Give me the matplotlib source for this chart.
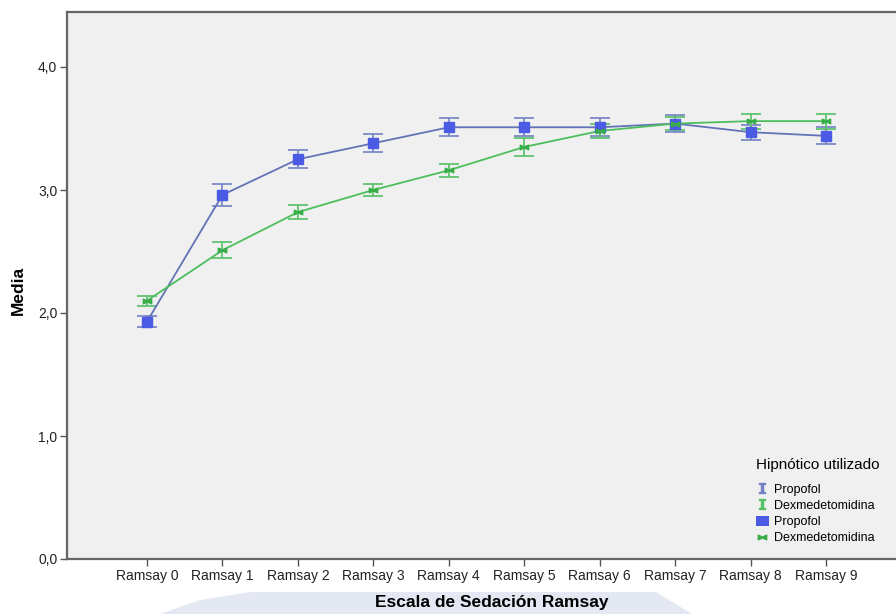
import matplotlib
matplotlib.use("Agg")
import matplotlib.pyplot as plt
from matplotlib.lines import Line2D
from matplotlib.patches import Patch, Polygon
from matplotlib.path import Path

plt.rcParams['font.family'] = ['Liberation Sans', 'DejaVu Sans']

categories = ["Ramsay 0", "Ramsay 1", "Ramsay 2", "Ramsay 3", "Ramsay 4",
              "Ramsay 5", "Ramsay 6", "Ramsay 7", "Ramsay 8", "Ramsay 9"]
propofol_mean = [1.93, 2.96, 3.25, 3.38, 3.51, 3.51, 3.51, 3.54, 3.47, 3.44]
propofol_err = [0.043, 0.09, 0.073, 0.075, 0.072, 0.072, 0.075, 0.07, 0.06, 0.07]
dexme_mean = [2.10, 2.51, 2.82, 3.00, 3.16, 3.35, 3.48, 3.54, 3.56, 3.56]
dexme_err = [0.04, 0.065, 0.054, 0.046, 0.054, 0.07, 0.055, 0.05, 0.06, 0.06]
yticks = [0.0, 1.0, 2.0, 3.0, 4.0]
ytick_labels = ["0,0", "1,0", "2,0", "3,0", "4,0"]

W, H = 896, 614
fig = plt.figure(figsize=(W / 100, H / 100), dpi=100)
left_px, right_px, top_px, bot_px = 67, 917, 12, 559
ax = fig.add_axes([left_px / W, (H - bot_px) / H,
                   (right_px - left_px) / W, (bot_px - top_px) / H])
ax.set_facecolor('#F0F0F0')
fig.patch.set_facecolor('white')

# faint watermark shape at the bottom
wm = Polygon([[160 / W, 0], [200 / W, 14 / H], [250 / W, 22 / H], [656 / W, 22 / H],
              [692 / W, 0]],
             closed=True, transform=fig.transFigure, facecolor='#E4E8F2',
             edgecolor='none', zorder=-5)
fig.patches.append(wm)

x = list(range(len(categories)))

blue_line = '#6373B6'
blue_marker = '#4B5BE3'
blue_err = '#7282C2'
green_line = '#4DBE5C'
green_marker = '#38AE48'
green_err = '#55C064'

# horizontal bow-tie marker
bowtie = Path([(-1, -0.55), (-1, 0.55), (0, 0.12), (1, 0.55), (1, -0.55), (0, -0.12), (-1, -0.55)],
              [Path.MOVETO, Path.LINETO, Path.LINETO, Path.LINETO, Path.LINETO,
               Path.LINETO, Path.CLOSEPOLY])

ax.errorbar(x, propofol_mean, yerr=propofol_err, fmt='none', ecolor=blue_err,
            elinewidth=1.2, capsize=7, capthick=1.2, zorder=2)
ax.plot(x, propofol_mean, color=blue_line, lw=1.3, zorder=3)
ax.plot(x, propofol_mean, linestyle='none', marker='s', markersize=7.5,
        color=blue_marker, zorder=4)

ax.errorbar(x, dexme_mean, yerr=dexme_err, fmt='none', ecolor=green_err,
            elinewidth=1.2, capsize=7, capthick=1.2, zorder=2)
ax.plot(x, dexme_mean, color=green_line, lw=1.3, zorder=3)
ax.plot(x, dexme_mean, linestyle='none', marker=bowtie, markersize=6,
        color=green_marker, zorder=5)

spacing = 75.44
ax.set_xlim(-(147 - left_px) / spacing, -(147 - left_px) / spacing + (right_px - left_px) / spacing)
ax.set_ylim(0, (bot_px - top_px) / 123.0)

ax.set_xticks(x)
ax.set_xticklabels(categories, fontsize=10)
ax.set_yticks(yticks)
ax.set_yticklabels(ytick_labels, fontsize=10)
ax.tick_params(axis='both', direction='out', length=5, width=1, color='#555555',
               labelcolor='#222222', pad=2)

for s in ['left', 'bottom', 'top']:
    ax.spines[s].set_color('#666666')
    ax.spines[s].set_linewidth(1.6)
ax.spines['right'].set_visible(False)

fig.text(492 / W, 1 - 603 / H, 'Escala de Sedación Ramsay', ha='center', va='center',
         fontsize=12.5, fontweight='bold')
fig.text(18 / W, 1 - 290 / H, 'Media', ha='center', va='center', rotation=90,
         fontsize=12.5, fontweight='bold')

handles = [
    Line2D([], [], linestyle='none', marker='$\\mathtt{I}$', markersize=7, color=blue_err),
    Line2D([], [], linestyle='none', marker='$\\mathtt{I}$', markersize=7, color=green_err),
    Patch(facecolor=blue_marker, edgecolor='none'),
    Line2D([], [], linestyle='none', marker=bowtie, markersize=6, color=green_marker),
]
labels = ['Propofol', 'Dexmedetomidina', 'Propofol', 'Dexmedetomidina']
leg = ax.legend(handles, labels, title='Hipnótico utilizado', loc='upper left',
                bbox_to_anchor=(756 / W, 1 - 458 / H), bbox_transform=fig.transFigure,
                frameon=False, fontsize=9, title_fontsize=11, alignment='left',
                borderaxespad=0, borderpad=0, handlelength=1.0, handleheight=0.9,
                handletextpad=0.45, labelspacing=0.3)
leg._legend_box.align = 'left'
leg._legend_box.sep = 8

fig.savefig('out.png', dpi=100)
